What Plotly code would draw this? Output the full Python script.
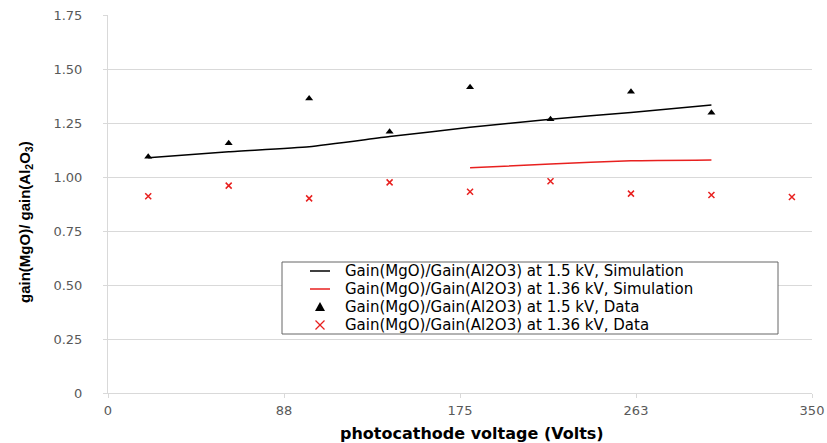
import plotly.graph_objects as go

# Data
x_data = [20, 60, 100, 140, 180, 220, 260, 300, 340]
tri_1p5kv = [1.094, 1.156, 1.364, 1.210, 1.415, 1.267, 1.395, 1.298]
cross_1p36kv = [0.911, 0.960, 0.901, 0.975, 0.932, 0.980, 0.923, 0.917, 0.907]

sim_x_1p5 = [20, 60, 100, 140, 180, 220, 260, 300]
sim_1p5 = [1.089, 1.117, 1.140, 1.187, 1.230, 1.267, 1.299, 1.333]
sim_x_1p36 = [180, 220, 260, 300]
sim_1p36 = [1.043, 1.060, 1.075, 1.079]

series_names = [
    "Gain(MgO)/Gain(Al2O3) at 1.5 kV, Simulation",
    "Gain(MgO)/Gain(Al2O3) at 1.36 kV, Simulation",
    "Gain(MgO)/Gain(Al2O3) at 1.5 kV, Data",
    "Gain(MgO)/Gain(Al2O3) at 1.36 kV, Data",
]

x_tickvals = [0, 87.5, 175, 262.5, 350]
x_ticktext = ["0", "88", "175", "263", "350"]
y_tickvals = [0, 0.25, 0.5, 0.75, 1.0, 1.25, 1.5, 1.75]
y_ticktext = ["0", "0.25", "0.50", "0.75", "1.00", "1.25", "1.50", "1.75"]

RED = "#e8201f"
W, H = 827, 443
ML, MR, MT, MB = 108, 15, 15, 50
PW, PH = W - ML - MR, H - MT - MB


def px(xp):
    return (xp - ML) / PW


def py(yp):
    return (H - MB - yp) / PH


fig = go.Figure()
fig.add_trace(go.Scatter(
    x=sim_x_1p5, y=sim_1p5, mode="lines",
    line=dict(color="black", width=1.5, shape="spline", smoothing=0.5),
    name=series_names[0]))
fig.add_trace(go.Scatter(
    x=sim_x_1p36, y=sim_1p36, mode="lines",
    line=dict(color=RED, width=1.5, shape="spline", smoothing=0.5),
    name=series_names[1]))
fig.add_trace(go.Scatter(
    x=x_data[:len(tri_1p5kv)], y=tri_1p5kv, mode="markers",
    marker=dict(symbol="triangle-up", color="black", size=7),
    name=series_names[2]))
fig.add_trace(go.Scatter(
    x=x_data, y=cross_1p36kv, mode="markers",
    marker=dict(symbol="x-thin", color=RED, size=6,
                line=dict(color=RED, width=1.5)),
    name=series_names[3]))

# Legend box (drawn manually to match the reference's tight rows)
shapes = [dict(type="rect", xref="paper", yref="paper",
               x0=px(282), x1=px(778), y0=py(334), y1=py(262),
               line=dict(color="#666666", width=1), fillcolor="white", layer="above")]
row_y = [271, 289, 307, 325]
shapes.append(dict(type="line", xref="paper", yref="paper", x0=px(310), x1=px(330),
                   y0=py(row_y[0]), y1=py(row_y[0]), line=dict(color="black", width=1.5), layer="above"))
shapes.append(dict(type="line", xref="paper", yref="paper", x0=px(310), x1=px(330),
                   y0=py(row_y[1]), y1=py(row_y[1]), line=dict(color=RED, width=1.5), layer="above"))
ty = row_y[2]
shapes.append(dict(type="path", xref="paper", yref="paper",
                   path=f"M {px(315)},{py(ty+4)} L {px(325)},{py(ty+4)} L {px(320)},{py(ty-5)} Z",
                   fillcolor="black", line=dict(color="black", width=0), layer="above"))
cy = row_y[3]
shapes.append(dict(type="line", xref="paper", yref="paper", x0=px(315.5), x1=px(324.5),
                   y0=py(cy-4.5), y1=py(cy+4.5), line=dict(color=RED, width=1.3), layer="above"))
shapes.append(dict(type="line", xref="paper", yref="paper", x0=px(315.5), x1=px(324.5),
                   y0=py(cy+4.5), y1=py(cy-4.5), line=dict(color=RED, width=1.3), layer="above"))

annotations = []
for name, ry in zip(series_names, row_y):
    annotations.append(dict(
        text=name, xref="paper", yref="paper", x=px(344), y=py(ry),
        xanchor="left", yanchor="middle", showarrow=False, borderpad=0,
        font=dict(family="DejaVu Sans", size=15, color="black")))

# axis titles as annotations so they sit where the reference places them
annotations.append(dict(
    text="gain(MgO)/ gain(Al<sub>2</sub>O<sub>3</sub>)", xref="paper", yref="paper",
    x=px(25), y=py(222), xanchor="center", yanchor="middle", textangle=-90,
    showarrow=False, borderpad=0,
    font=dict(family="Liberation Sans", size=15, color="black", weight="bold")))
annotations.append(dict(
    text="photocathode voltage (Volts)", xref="paper", yref="paper",
    x=px(472), y=py(434), xanchor="center", yanchor="middle",
    showarrow=False, borderpad=0,
    font=dict(family="DejaVu Sans", size=16, color="black", weight="bold")))

tick_font = dict(family="DejaVu Sans", size=13, color="#595959")
fig.update_layout(
    width=W, height=H,
    margin=dict(l=ML, r=MR, t=MT, b=MB, autoexpand=False),
    paper_bgcolor="white", plot_bgcolor="white",
    showlegend=False,
    shapes=shapes, annotations=annotations,
)
fig.update_xaxes(
    range=[0, 350], tickvals=x_tickvals, ticktext=x_ticktext,
    showgrid=False, showline=True, linecolor="#d9d9d9", linewidth=1,
    ticks="outside", ticklen=4, tickcolor="#d9d9d9",
    tickfont=tick_font, zeroline=False, automargin=False, ticklabelstandoff=1,
)
fig.update_yaxes(
    range=[0, 1.75], tickvals=y_tickvals, ticktext=y_ticktext,
    showgrid=True, gridcolor="#d9d9d9", gridwidth=1,
    showline=True, linecolor="#d9d9d9", linewidth=1,
    ticks="outside", ticklen=4, tickcolor="#d9d9d9",
    tickfont=tick_font, zeroline=False, ticklabelstandoff=18, automargin=False,
)

fig.write_html("out.html")
